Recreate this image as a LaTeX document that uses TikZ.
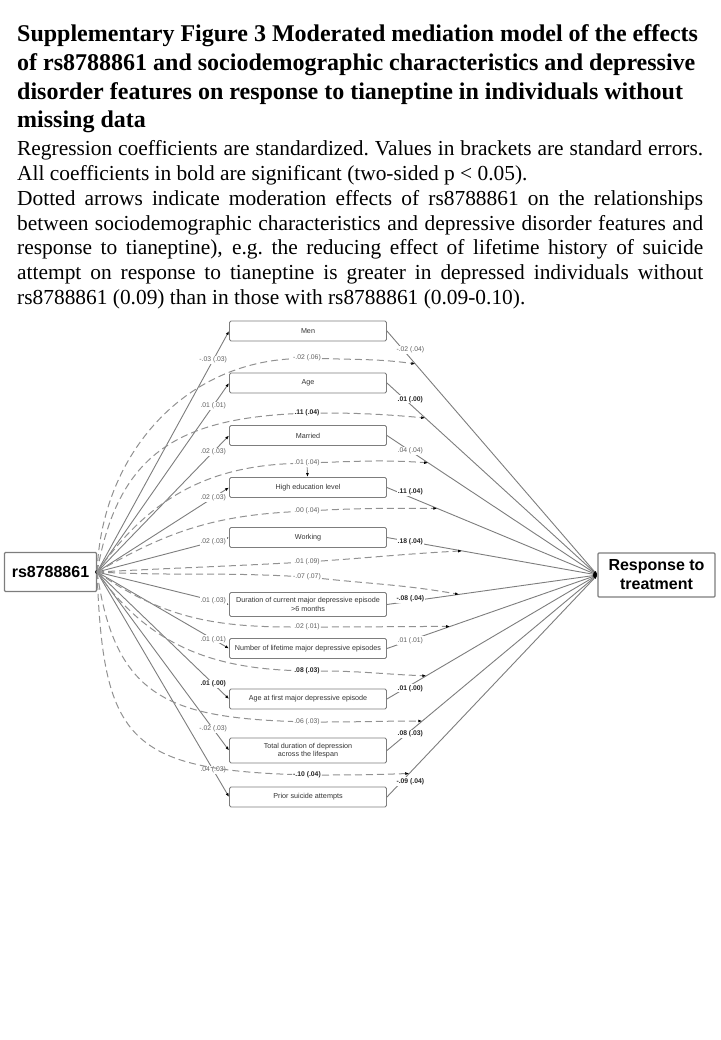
\documentclass[tikz,border=0pt]{standalone}
\usepackage{fontspec}
\setmainfont{Liberation Serif}
\newfontfamily\semfont{Liberation Sans}
\usetikzlibrary{arrows.meta}

\definecolor{edgegray}{RGB}{125,125,125}
\definecolor{modgray}{RGB}{145,145,145}
\definecolor{labgray}{RGB}{95,95,95}

% plain word spaces, and a line stretched to the full width
\newcommand{\wordspace}{\spaceskip=.25em plus .1em minus .08em\xspaceskip=\spaceskip}
\newcommand{\fullline}[1]{\makebox[686pt][s]{\spaceskip=.25em plus 1em minus .08em\xspaceskip=\spaceskip #1}}

\begin{document}
\begin{tikzpicture}[x=1pt,y=1pt,
caption/.style={anchor=base west, inner sep=0pt, text width=686pt, align=left},
observed/.style={draw=edgegray, rounded corners=1.5pt, line width=0.9pt, minimum width=157pt, minimum height=20pt, inner sep=1pt, text=black!80, font=\semfont\fontsize{7.2}{8.6}\selectfont, align=center},
endpoint/.style={draw=edgegray, rounded corners=1pt, line width=1.2pt, inner sep=0pt, font=\semfont\bfseries\fontsize{16}{19}\selectfont, align=center},
effect/.style={draw=edgegray, line width=0.9pt, -{Latex[length=4pt,width=3pt,black]}},
moderation/.style={effect, draw=modgray, line width=1pt, dash pattern=on 7pt off 4pt},
coef/.style={fill=white, inner sep=1pt, text=labgray, font=\semfont\fontsize{6.8}{8}\selectfont},
sig/.style={coef, text=black!85, font=\semfont\bfseries\fontsize{6.8}{8}\selectfont},
]
\useasboundingbox (0,0) rectangle (720,-1040);

% caption
\node[caption, font=\bfseries\fontsize{24}{28.6}\selectfont] (title) at (17,-42)
{\wordspace\mbox{Supplementary Figure 3 Moderated mediation model of the effects}\\
\mbox{of rs8788861 and sociodemographic characteristics and depressive}\\
\mbox{disorder features on response to tianeptine in individuals without}\\
\mbox{missing data}};
\node[caption, font=\fontsize{21.4}{24.7}\selectfont] (notes) at (17,-156)
{\wordspace\fullline{Regression coefficients are standardized. Values in brackets are standard errors.}\\
All coefficients in bold are significant (two-sided p < 0.05).\\
\fullline{Dotted arrows indicate moderation effects of rs8788861 on the relationships}\\
\fullline{between sociodemographic characteristics and depressive disorder features and}\\
\fullline{response to tianeptine), e.g. the reducing effect of lifetime history of suicide}\\
\fullline{attempt on response to tianeptine is greater in depressed individuals without}\\
rs8788861 (0.09) than in those with rs8788861 (0.09-0.10).};

% variables
\node[endpoint, minimum width=92pt, minimum height=39pt] (rs) at (50.5,-572) {rs8788861};
\node[endpoint, minimum width=117pt, minimum height=44pt] (resp) at (656.5,-575) {Response to\\treatment};
\node[observed] (men) at (308,-331) {Men};
\node[observed] (age) at (308,-383) {Age};
\node[observed] (married) at (308,-435.5) {Married};
\node[observed] (highedu) at (308,-487.5) {High education level};
\node[observed] (working) at (308,-537.5) {Working};
\node[observed, minimum height=24pt] (duration) at (308,-604.5) {Duration of current major depressive episode\\>6 months};
\node[observed] (episodes) at (308,-648.5) {Number of lifetime major depressive episodes};
\node[observed] (agefirst) at (308,-699) {Age at first major depressive episode};
\node[observed, minimum height=25pt] (totaldur) at (308,-750.5) {Total duration of depression\\across the lifespan};
\node[observed] (suicide) at (308,-797) {Prior suicide attempts};
\node[circle, fill=black, inner sep=0pt, minimum size=4pt] (rsdot) at (rs.east) {};

% rs8788861 -> mediators
\draw[effect] (rs.east) -- node[coef, pos=.88] {-.03 (.03)} (men.west);
\draw[effect] (rs.east) -- node[coef, pos=.88] {.01 (.01)} (age.west);
\draw[effect] (rs.east) -- node[coef, pos=.88] {.02 (.03)} (married.west);
\draw[effect] (rs.east) -- node[coef, pos=.88] {.02 (.03)} (highedu.west);
\draw[effect] (rs.east) -- node[coef, pos=.88] {.02 (.03)} (working.west);
\draw[effect] (rs.east) -- node[coef, pos=.88] {.01 (.03)} (duration.west);
\draw[effect] (rs.east) -- node[coef, pos=.88] {.01 (.01)} (episodes.west);
\draw[effect] (rs.east) -- node[sig, pos=.88] {.01 (.00)} (agefirst.west);
\draw[effect] (rs.east) -- node[coef, pos=.88] {-.02 (.03)} (totaldur.west);
\draw[effect] (rs.east) -- node[coef, pos=.88] {.04 (.03)} (suicide.west);

% mediators -> response
\draw[effect] (men.east) -- node[coef, pos=.111, yshift=8pt] {-.02 (.04)} coordinate[pos=.135] (tmen) (resp.west);
\draw[effect] (age.east) -- node[sig, pos=.111, yshift=5pt] {.01 (.00)} coordinate[pos=.182] (tage) (resp.west);
\draw[effect] (married.east) -- node[coef, pos=.111] {.04 (.04)} coordinate[pos=.196] (tmarried) (resp.west);
\draw[effect] (highedu.east) -- node[sig, pos=.111, yshift=5pt] {.11 (.04)} coordinate[pos=.239] (thighedu) (resp.west);
\draw[effect] (working.east) -- node[sig, pos=.111] {.18 (.04)} coordinate[pos=.357] (tworking) (resp.west);
\draw[effect] (duration.east) -- node[sig, pos=.111, yshift=2pt] {-.08 (.04)} coordinate[pos=.343] (tduration) (resp.west);
\draw[effect] (episodes.east) -- node[coef, pos=.111] {.01 (.01)} coordinate[pos=.30] (tepisodes) (resp.west);
\draw[effect] (agefirst.east) -- node[sig, pos=.111, yshift=-3pt] {.01 (.00)} coordinate[pos=.187] (tagefirst) (resp.west);
\draw[effect] (totaldur.east) -- node[sig, pos=.111, yshift=-3pt] {.08 (.03)} coordinate[pos=.168] (ttotaldur) (resp.west);
\draw[effect] (suicide.east) -- node[sig, pos=.111, yshift=-9pt] {-.09 (.04)} coordinate[pos=.106] (tsuicide) (resp.west);

% moderation by rs8788861
\node[coef] (dmen) at (307,-358) {-.02 (.06)};
\node[sig] (dage) at (307,-413) {.11 (.04)};
\node[coef] (dmarried) at (307,-463) {.01 (.04)};
\node[coef] (dhighedu) at (307,-511) {.00 (.04)};
\node[coef] (dworking) at (307,-562) {.01 (.09)};
\node[coef] (dduration) at (307,-577) {-.07 (.07)};
\node[coef] (depisodes) at (307,-627) {.02 (.01)};
\node[sig] (dagefirst) at (307,-671) {.08 (.03)};
\node[coef] (dtotaldur) at (307,-722) {.06 (.03)};
\node[sig] (dsuicide) at (307,-775) {-.10 (.04)};

\draw[moderation] (rs.east) to[out=88, in=183] (dmen) to[out=-2, in=172] (tmen);
\draw[moderation] (rs.east) to[out=80, in=183, looseness=1.2] (dage) to[out=0, in=175] (tage);
\draw[moderation] (rs.east) to[out=55, in=182] (dmarried) to[out=2, in=176] (tmarried);
\draw[moderation] (rs.east) to[out=30, in=183] (dhighedu) to[out=3, in=180] (thighedu);
\draw[moderation] (rs.east) to[out=3, in=183] (dworking) to[out=4, in=183] (tworking);
\draw[moderation] (rs.east) to[out=-3, in=177] (dduration) to[out=-6, in=170] (tduration);
\draw[moderation] (rs.east) to[out=-35, in=180] (depisodes) to[out=0, in=180] (tepisodes);
\draw[moderation] (rs.east) to[out=-55, in=178] (dagefirst) to[out=0, in=178] (tagefirst);
\draw[moderation] (rs.east) to[out=-82, in=178, looseness=1.3] (dtotaldur) to[out=0, in=180] (ttotaldur);
\draw[moderation] (rs.east) to[out=-88, in=178, looseness=1.5] (dsuicide) to[out=0, in=182] (tsuicide);
\draw[effect] (dmarried) -- (highedu);
\end{tikzpicture}
\end{document}
